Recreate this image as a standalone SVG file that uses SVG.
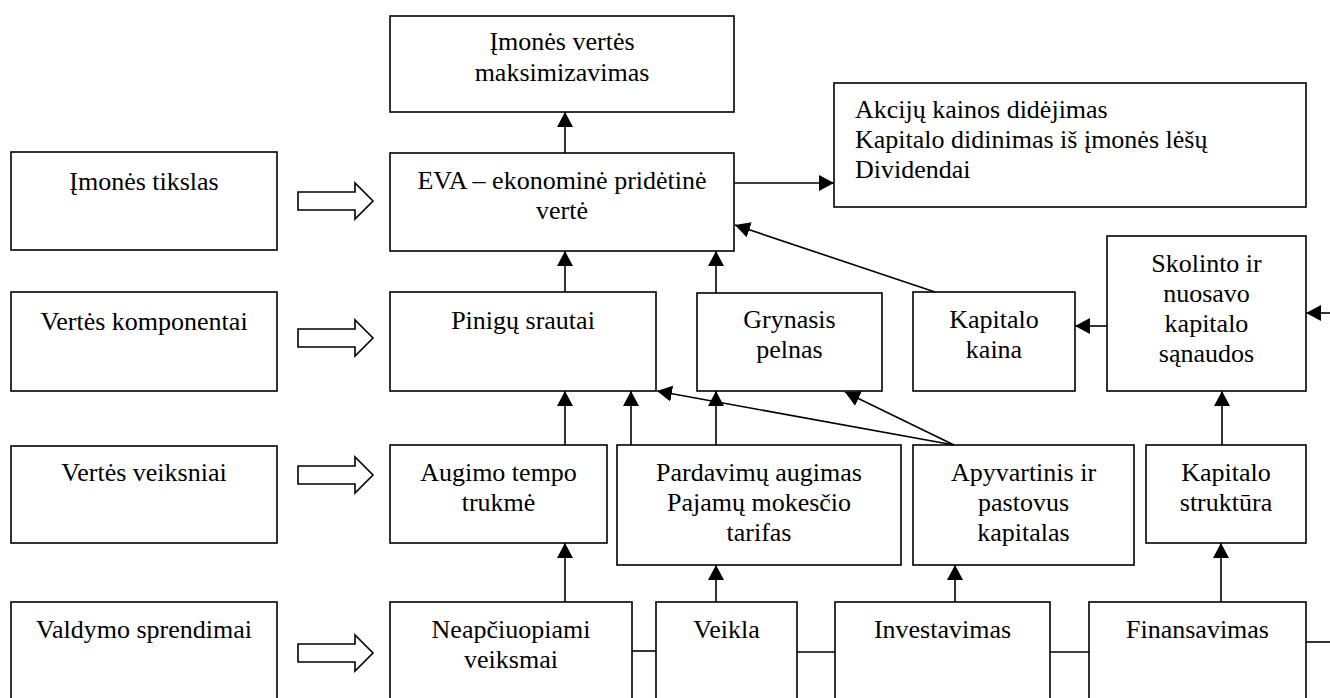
<svg xmlns="http://www.w3.org/2000/svg" width="1330" height="698" viewBox="0 0 1330 698">
  <style>
    .box { fill: #fff; stroke: #000; stroke-width: 1.6; }
    .t { font-family: "Liberation Serif", "Times New Roman", "DejaVu Serif", serif; font-size: 26px; fill: #000; text-anchor: middle; }
    .tl { font-family: "Liberation Serif", "Times New Roman", "DejaVu Serif", serif; font-size: 26px; fill: #000; }
    .ln { fill: none; stroke: #000; stroke-width: 1.6; }
    .ar { fill: none; stroke: #000; stroke-width: 1.6; marker-end: url(#ah); }
    .hollow { fill: #fff; stroke: #000; stroke-width: 1.6; stroke-linejoin: miter; }
  </style>
  <defs>
    <marker id="ah" viewBox="0 0 15 16" refX="15" refY="8" markerWidth="15" markerHeight="16" orient="auto" markerUnits="userSpaceOnUse">
      <path d="M0,0 L15,8 L0,16 Z" fill="#000"/>
    </marker>
    <!-- block arrow pointing right, centred on y=0 -->
    <path id="blk" d="M298,-9 L355,-9 L355,-18 L373,0 L355,18 L355,9 L298,9 Z"/>
  </defs>
  <rect width="1330" height="698" fill="#fff"/>

  <!-- left column: levels -->
  <g id="lvl-tikslas">
    <rect class="box" x="11" y="152" width="266" height="98"/>
    <text class="t" x="144" y="190">Įmonės tikslas</text>
  </g>
  <g id="lvl-komponentai">
    <rect class="box" x="11" y="292" width="266" height="99"/>
    <text class="t" x="144" y="330">Vertės komponentai</text>
  </g>
  <g id="lvl-veiksniai">
    <rect class="box" x="11" y="446" width="266" height="97"/>
    <text class="t" x="144" y="481">Vertės veiksniai</text>
  </g>
  <g id="lvl-sprendimai">
    <rect class="box" x="11" y="602" width="266" height="110"/>
    <text class="t" x="144" y="638">Valdymo sprendimai</text>
  </g>

  <!-- block arrows from levels to the chain -->
  <g id="block-arrows" class="hollow">
    <use href="#blk" transform="translate(0,201)"/>
    <use href="#blk" transform="translate(0,338)"/>
    <use href="#blk" transform="translate(0,475)"/>
    <use href="#blk" transform="translate(0,653)"/>
  </g>

  <!-- chain nodes -->
  <g id="maksimizavimas">
    <rect class="box" x="390" y="16" width="344" height="96"/>
    <text class="t" x="562" y="50">Įmonės vertės</text>
    <text class="t" x="562" y="81">maksimizavimas</text>
  </g>
  <g id="eva">
    <rect class="box" x="390" y="153" width="344" height="98"/>
    <text class="t" x="562" y="189">EVA – ekonominė pridėtinė</text>
    <text class="t" x="562" y="219">vertė</text>
  </g>
  <g id="rezultatai">
    <rect class="box" x="834" y="83" width="472" height="124"/>
    <text class="tl" x="855" y="118">Akcijų kainos didėjimas</text>
    <text class="tl" x="855" y="148">Kapitalo didinimas iš įmonės lėšų</text>
    <text class="tl" x="855" y="178">Dividendai</text>
  </g>
  <g id="pinigu-srautai">
    <rect class="box" x="390" y="292" width="266" height="99"/>
    <text class="t" x="523" y="329">Pinigų srautai</text>
  </g>
  <g id="grynasis-pelnas">
    <rect class="box" x="697" y="293" width="185" height="98"/>
    <text class="t" x="789.5" y="328">Grynasis</text>
    <text class="t" x="789.5" y="358">pelnas</text>
  </g>
  <g id="kapitalo-kaina">
    <rect class="box" x="913" y="292" width="162" height="99"/>
    <text class="t" x="994" y="328">Kapitalo</text>
    <text class="t" x="994" y="358">kaina</text>
  </g>
  <g id="sanaudos">
    <rect class="box" x="1107" y="236" width="199" height="155"/>
    <text class="t" x="1206.5" y="272">Skolinto ir</text>
    <text class="t" x="1206.5" y="302">nuosavo</text>
    <text class="t" x="1206.5" y="332">kapitalo</text>
    <text class="t" x="1206.5" y="362">sąnaudos</text>
  </g>
  <g id="augimo-tempas">
    <rect class="box" x="390" y="445" width="217" height="98"/>
    <text class="t" x="498.5" y="481">Augimo tempo</text>
    <text class="t" x="498.5" y="511">trukmė</text>
  </g>
  <g id="pardavimai">
    <rect class="box" x="617" y="445" width="284" height="120"/>
    <text class="t" x="759" y="481">Pardavimų augimas</text>
    <text class="t" x="759" y="511">Pajamų mokesčio</text>
    <text class="t" x="759" y="541">tarifas</text>
  </g>
  <g id="kapitalas">
    <rect class="box" x="913" y="445" width="221" height="120"/>
    <text class="t" x="1023.5" y="481">Apyvartinis ir</text>
    <text class="t" x="1023.5" y="511">pastovus</text>
    <text class="t" x="1023.5" y="541">kapitalas</text>
  </g>
  <g id="struktura">
    <rect class="box" x="1146" y="445" width="160" height="98"/>
    <text class="t" x="1226" y="481">Kapitalo</text>
    <text class="t" x="1226" y="511">struktūra</text>
  </g>
  <g id="neapciuopiami">
    <rect class="box" x="390" y="602" width="242" height="110"/>
    <text class="t" x="511" y="638">Neapčiuopiami</text>
    <text class="t" x="511" y="668">veiksmai</text>
  </g>
  <g id="veikla">
    <rect class="box" x="656" y="602" width="141" height="110"/>
    <text class="t" x="726.5" y="638">Veikla</text>
  </g>
  <g id="investavimas">
    <rect class="box" x="835" y="602" width="215" height="110"/>
    <text class="t" x="942.5" y="638">Investavimas</text>
  </g>
  <g id="finansavimas">
    <rect class="box" x="1089" y="602" width="217" height="110"/>
    <text class="t" x="1197.5" y="638">Finansavimas</text>
  </g>

  <!-- connectors -->
  <g id="connectors">
    <line class="ar" x1="565" y1="153" x2="565" y2="112"/>
    <line class="ar" x1="734" y1="183" x2="834" y2="183"/>
    <line class="ar" x1="565" y1="292" x2="565" y2="251"/>
    <line class="ar" x1="716" y1="293" x2="716" y2="251"/>
    <line class="ar" x1="935" y1="292" x2="735" y2="225"/>
    <line class="ar" x1="1107" y1="326" x2="1075" y2="326"/>
    <line class="ar" x1="1330" y1="313" x2="1306" y2="313"/>
    <line class="ar" x1="565" y1="445" x2="565" y2="391"/>
    <line class="ar" x1="631" y1="445" x2="631" y2="391"/>
    <line class="ar" x1="716" y1="445" x2="716" y2="391"/>
    <line class="ar" x1="954" y1="445" x2="657" y2="391"/>
    <line class="ar" x1="954" y1="445" x2="845" y2="392"/>
    <line class="ar" x1="1222" y1="445" x2="1222" y2="391"/>
    <line class="ar" x1="565" y1="602" x2="565" y2="543"/>
    <line class="ar" x1="716" y1="602" x2="716" y2="565"/>
    <line class="ar" x1="955" y1="602" x2="955" y2="565"/>
    <line class="ar" x1="1221" y1="602" x2="1221" y2="543"/>
    <line class="ln" x1="632" y1="651" x2="656" y2="651"/>
    <line class="ln" x1="797" y1="652" x2="835" y2="652"/>
    <line class="ln" x1="1050" y1="652" x2="1089" y2="652"/>
    <line class="ln" x1="1306" y1="642" x2="1330" y2="642"/>
  </g>
</svg>
